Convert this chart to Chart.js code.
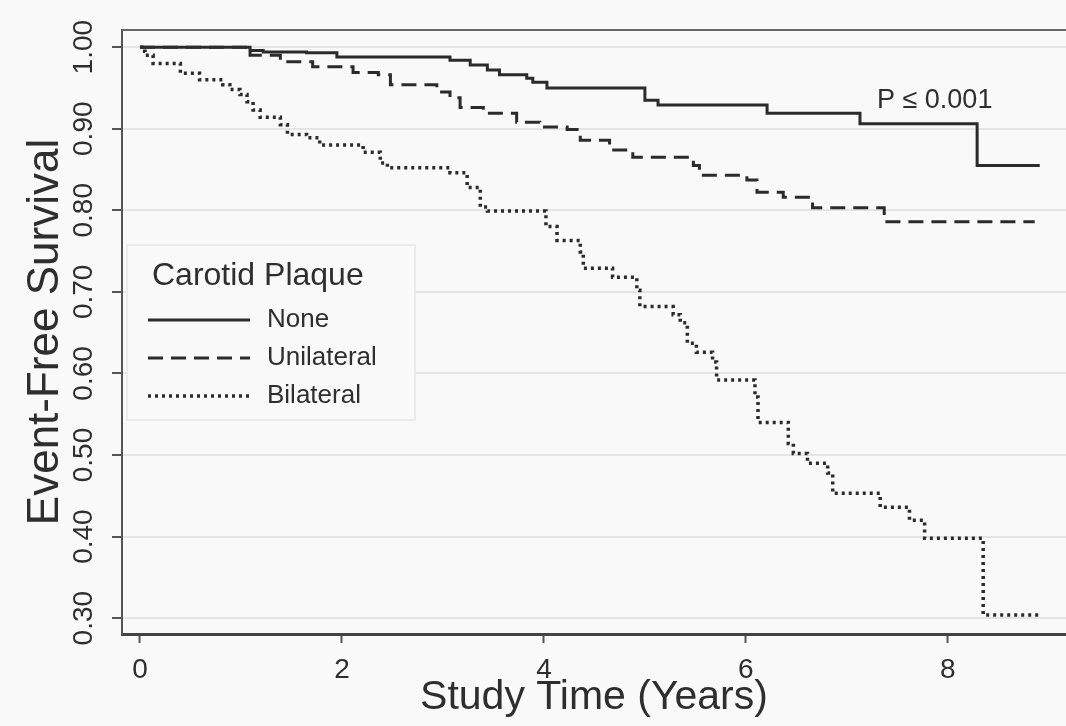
<!DOCTYPE html>
<html>
<head>
<meta charset="utf-8">
<script src="https://cdn.jsdelivr.net/npm/chart.js@4.4.1/dist/chart.umd.min.js"></script>
<style>
  body { margin: 0; background: #f9f9f9; }
  #wrap { width: 1066px; height: 726px; }
</style>
</head>
<body>
<div id="wrap"><canvas id="kmChart" width="1066" height="726"></canvas></div>
<script>
// Kaplan-Meier curves (time in years, event-free survival)
const seriesNames = ['None', 'Unilateral', 'Bilateral'];

const noneTime = [0, 1.09, 1.22, 1.65, 1.95, 3.07, 3.27, 3.44, 3.56, 3.83, 3.89, 4.03, 5.00, 5.13, 6.21, 7.13, 8.29, 8.91];
const noneSurv = [1.000, 0.996, 0.994, 0.993, 0.988, 0.984, 0.978, 0.972, 0.966, 0.962, 0.957, 0.950, 0.935, 0.929, 0.919, 0.906, 0.855, 0.855];

const uniTime = [0, 1.09, 1.39, 1.71, 2.11, 2.36, 2.48, 2.94, 3.07, 3.17, 3.40, 3.73, 3.96, 4.23, 4.36, 4.65, 4.88, 5.48, 5.54, 6.01, 6.11, 6.37, 6.66, 7.37, 8.86];
const uniSurv = [1.000, 0.990, 0.982, 0.976, 0.969, 0.966, 0.954, 0.945, 0.938, 0.926, 0.919, 0.908, 0.902, 0.899, 0.886, 0.874, 0.865, 0.855, 0.843, 0.837, 0.822, 0.816, 0.803, 0.786, 0.786];

const biTime = [0, 0.02, 0.05, 0.13, 0.40, 0.59, 0.82, 0.89, 0.99, 1.06, 1.12, 1.19, 1.39, 1.46, 1.65, 1.78, 2.21, 2.38, 2.45, 3.07, 3.24, 3.37, 3.44, 4.02, 4.13, 4.36, 4.39, 4.68, 4.92, 4.95, 5.28, 5.35, 5.42, 5.51, 5.67, 5.71, 6.09, 6.12, 6.42, 6.47, 6.61, 6.81, 6.86, 7.33, 7.62, 7.77, 8.35, 8.93];
const biSurv = [1.000, 0.995, 0.990, 0.980, 0.968, 0.960, 0.954, 0.948, 0.942, 0.933, 0.923, 0.914, 0.905, 0.893, 0.889, 0.880, 0.871, 0.858, 0.852, 0.846, 0.828, 0.804, 0.799, 0.780, 0.763, 0.749, 0.729, 0.718, 0.702, 0.682, 0.672, 0.662, 0.637, 0.626, 0.614, 0.592, 0.571, 0.540, 0.514, 0.502, 0.490, 0.478, 0.453, 0.436, 0.420, 0.398, 0.304, 0.304];

const xTicks = [0, 2, 4, 6, 8];
const yTicks = [0.30, 0.40, 0.50, 0.60, 0.70, 0.80, 0.90, 1.00];

const legendTitle = 'Carotid Plaque';
const pValueText = 'P \u2264 0.001';

const FONT = "'Liberation Sans', Arial, Helvetica, sans-serif";
const INK = '#2e2e2e';

function toPoints(times, surv) {
    return times.map((t, i) => ({ x: t, y: surv[i] }));
}

// Draws the top frame line, the legend box and the p-value note
const extrasPlugin = {
    id: 'extras',
    afterDraw(chart) {
        const ctx = chart.ctx;
        const area = chart.chartArea;
        ctx.save();

        // top frame
        ctx.strokeStyle = '#666';
        ctx.lineWidth = 2;
        ctx.beginPath();
        ctx.moveTo(area.left, area.top);
        ctx.lineTo(area.right, area.top);
        ctx.stroke();

        // legend box
        const bx = 127, by = 245, bw = 288, bh = 175;
        ctx.fillStyle = '#f9f9f9';
        ctx.fillRect(bx, by, bw, bh);
        ctx.strokeStyle = '#e6e6e6';
        ctx.lineWidth = 1.5;
        ctx.strokeRect(bx, by, bw, bh);

        ctx.fillStyle = INK;
        ctx.textBaseline = 'middle';
        ctx.textAlign = 'left';
        ctx.font = '32px ' + FONT;
        ctx.fillText(legendTitle, 152, 276);

        ctx.font = '26px ' + FONT;
        chart.data.datasets.forEach((ds, i) => {
            const y = 320 + i * 38;
            ctx.strokeStyle = ds.borderColor;
            ctx.lineWidth = ds.borderWidth;
            ctx.setLineDash(ds.borderDash || []);
            ctx.beginPath();
            ctx.moveTo(148, y);
            ctx.lineTo(250, y);
            ctx.stroke();
            ctx.setLineDash([]);
            ctx.fillText(ds.label, 267, y);
        });

        // p-value
        ctx.font = '27px ' + FONT;
        ctx.fillText(pValueText, 877, 101);
        ctx.restore();
    }
};

const ctx = document.getElementById('kmChart').getContext('2d');
new Chart(ctx, {
    type: 'line',
    data: {
        datasets: [
            {
                label: seriesNames[0],
                data: toPoints(noneTime, noneSurv),
                borderColor: '#2b2b2b',
                borderWidth: 3,
                stepped: true,
                pointRadius: 0
            },
            {
                label: seriesNames[1],
                data: toPoints(uniTime, uniSurv),
                borderColor: '#2b2b2b',
                borderWidth: 3,
                borderDash: [15, 8],
                stepped: true,
                pointRadius: 0
            },
            {
                label: seriesNames[2],
                data: toPoints(biTime, biSurv),
                borderColor: '#2b2b2b',
                borderWidth: 3.5,
                borderDash: [3, 4],
                stepped: true,
                pointRadius: 0
            }
        ]
    },
    options: {
        responsive: false,
        animation: false,
        layout: { padding: { top: 30, right: 0, left: 0, bottom: 0 } },
        plugins: {
            legend: { display: false },
            tooltip: { enabled: false }
        },
        scales: {
            x: {
                type: 'linear',
                min: -0.178,
                max: 9.17,
                afterBuildTicks: scale => { scale.ticks = xTicks.map(v => ({ value: v })); },
                afterFit: scale => { scale.height = 92; },
                grid: {
                    drawOnChartArea: false,
                    drawTicks: true,
                    tickLength: 9,
                    tickColor: '#555',
                    tickWidth: 2
                },
                border: { display: true, color: '#444', width: 3 },
                ticks: {
                    color: INK,
                    font: { family: FONT, size: 28 },
                    padding: 10,
                    maxRotation: 0,
                    callback: v => String(v)
                },
                title: {
                    display: true,
                    text: 'Study Time (Years)',
                    color: INK,
                    font: { family: FONT, size: 41, lineHeight: 1 },
                    padding: { top: 0, bottom: 8 }
                }
            },
            y: {
                type: 'linear',
                min: 0.2806,
                max: 1.021,
                afterBuildTicks: scale => { scale.ticks = yTicks.map(v => ({ value: v })); },
                afterFit: scale => { scale.width = 122; },
                grid: {
                    color: '#e4e4e4',
                    lineWidth: 2,
                    drawTicks: true,
                    tickLength: 10,
                    tickColor: '#555',
                    tickWidth: 2
                },
                border: { display: true, color: '#555', width: 2 },
                ticks: {
                    color: INK,
                    font: { family: FONT, size: 28 },
                    minRotation: 90,
                    maxRotation: 90,
                    crossAlign: 'center',
                    padding: 0,
                    callback: v => Number(v).toFixed(2)
                },
                title: {
                    display: true,
                    text: 'Event-Free Survival',
                    color: INK,
                    font: { family: FONT, size: 44, lineHeight: 1 },
                    padding: { top: 24, bottom: 0 }
                }
            }
        }
    },
    plugins: [extrasPlugin]
});
</script>
</body>
</html>
